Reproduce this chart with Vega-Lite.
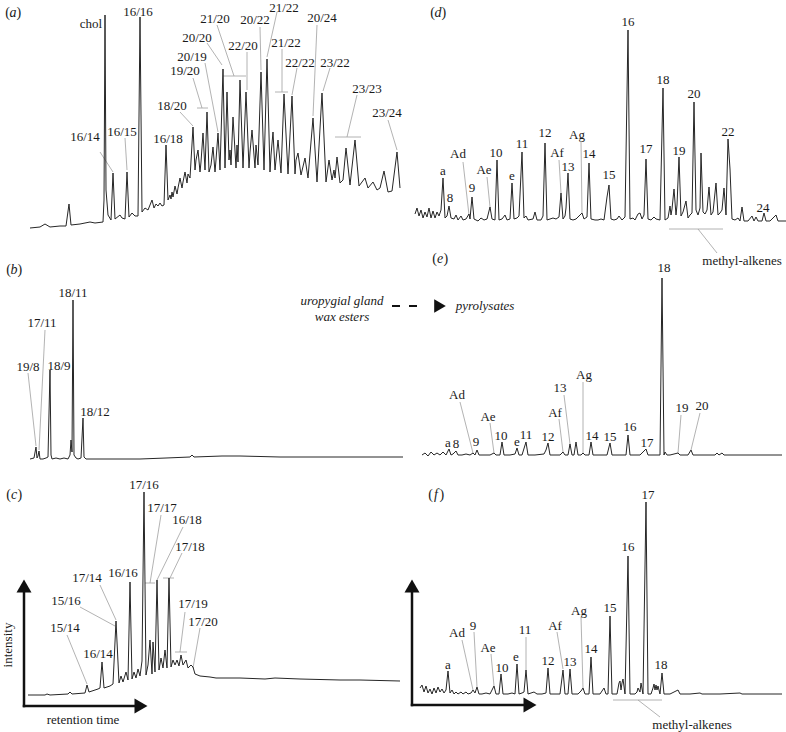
{
"$schema":"https://vega.github.io/schema/vega-lite/v6.json",
"padding":0,
"background":"white",
"config":{"view":{"stroke":null},"mark":{"font":"Liberation Serif"},"text":{"font":"Liberation Serif"}},
"columns":2,
"spacing":0,
"bounds":"flush",
"align":"each",
"datasets":{
"a_line":[{"t":30,"i":12},{"t":40,"i":13},{"t":45,"i":16},{"t":50,"i":13},{"t":60,"i":14},{"t":66,"i":14},{"t":69,"i":36},{"t":71,"i":15},{"t":80,"i":16},{"t":90,"i":18},{"t":95,"i":17},{"t":103,"i":18},{"t":104,"i":40},{"t":105,"i":225},{"t":106,"i":50},{"t":108,"i":25},{"t":111,"i":20},{"t":113,"i":67},{"t":115,"i":21},{"t":120,"i":25},{"t":122,"i":22},{"t":125,"i":21},{"t":127,"i":68},{"t":129,"i":23},{"t":132,"i":27},{"t":135,"i":24},{"t":138,"i":24},{"t":140,"i":223},{"t":142,"i":28},{"t":145,"i":32},{"t":148,"i":30},{"t":152,"i":40},{"t":154,"i":32},{"t":156,"i":36},{"t":158,"i":34},{"t":160,"i":37},{"t":162,"i":34},{"t":164,"i":35},{"t":166,"i":95},{"t":168,"i":40},{"t":170,"i":45},{"t":171,"i":41},{"t":172,"i":48},{"t":173,"i":43},{"t":175,"i":54},{"t":177,"i":46},{"t":178,"i":52},{"t":180,"i":62},{"t":182,"i":52},{"t":183,"i":58},{"t":185,"i":68},{"t":187,"i":57},{"t":188,"i":66},{"t":190,"i":62},{"t":193,"i":113},{"t":195,"i":70},{"t":196,"i":80},{"t":198,"i":90},{"t":200,"i":68},{"t":201,"i":78},{"t":203,"i":107},{"t":205,"i":70},{"t":207,"i":128},{"t":209,"i":68},{"t":211,"i":75},{"t":213,"i":93},{"t":215,"i":68},{"t":216,"i":80},{"t":218,"i":107},{"t":220,"i":70},{"t":223,"i":171},{"t":225,"i":72},{"t":227,"i":148},{"t":229,"i":80},{"t":230,"i":90},{"t":231,"i":75},{"t":233,"i":123},{"t":236,"i":72},{"t":237,"i":95},{"t":238,"i":78},{"t":240,"i":160},{"t":243,"i":72},{"t":246,"i":148},{"t":249,"i":72},{"t":250,"i":88},{"t":252,"i":110},{"t":255,"i":72},{"t":256,"i":95},{"t":258,"i":75},{"t":261,"i":168},{"t":264,"i":70},{"t":267,"i":181},{"t":270,"i":68},{"t":271,"i":85},{"t":273,"i":108},{"t":275,"i":70},{"t":278,"i":100},{"t":281,"i":67},{"t":284,"i":146},{"t":288,"i":66},{"t":292,"i":144},{"t":295,"i":66},{"t":296,"i":80},{"t":298,"i":87},{"t":301,"i":65},{"t":305,"i":82},{"t":308,"i":62},{"t":313,"i":122},{"t":317,"i":58},{"t":322,"i":147},{"t":326,"i":58},{"t":329,"i":80},{"t":332,"i":60},{"t":334,"i":70},{"t":335,"i":62},{"t":337,"i":83},{"t":340,"i":57},{"t":343,"i":60},{"t":346,"i":92},{"t":350,"i":55},{"t":355,"i":100},{"t":359,"i":54},{"t":362,"i":58},{"t":365,"i":62},{"t":368,"i":52},{"t":373,"i":58},{"t":377,"i":50},{"t":380,"i":52},{"t":384,"i":69},{"t":388,"i":48},{"t":392,"i":49},{"t":397,"i":88},{"t":400,"i":52}],
"a_lead":[{"t":100,"i":88,"t2":113,"i2":68},{"t":125,"i":102,"t2":127,"i2":70},{"t":180,"i":128,"t2":193,"i2":114},{"t":193,"i":162,"t2":202,"i2":132},{"t":197,"i":132,"t2":208,"i2":132},{"t":205,"i":177,"t2":218,"i2":108},{"t":207,"i":197,"t2":222,"i2":175},{"t":217,"i":215,"t2":234,"i2":164},{"t":223,"i":164,"t2":246,"i2":164},{"t":247,"i":188,"t2":247,"i2":150},{"t":260,"i":213,"t2":261,"i2":170},{"t":277,"i":228,"t2":267,"i2":183},{"t":282,"i":191,"t2":282,"i2":148},{"t":275,"i":148,"t2":288,"i2":148},{"t":297,"i":172,"t2":292,"i2":145},{"t":317,"i":215,"t2":313,"i2":124},{"t":330,"i":172,"t2":323,"i2":149},{"t":357,"i":145,"t2":347,"i2":103},{"t":335,"i":103,"t2":361,"i2":103},{"t":388,"i":120,"t2":397,"i2":90}],
"a_lab":[{"t":91,"i":216,"s":"chol"},{"t":138,"i":228,"s":"16/16"},{"t":85,"i":103,"s":"16/14"},{"t":122,"i":108,"s":"16/15"},{"t":168,"i":101,"s":"16/18"},{"t":172,"i":134,"s":"18/20"},{"t":185,"i":169,"s":"19/20"},{"t":192,"i":183,"s":"20/19"},{"t":197,"i":202,"s":"20/20"},{"t":215,"i":221,"s":"21/20"},{"t":243,"i":194,"s":"22/20"},{"t":255,"i":220,"s":"20/22"},{"t":284,"i":232,"s":"21/22"},{"t":286,"i":197,"s":"21/22"},{"t":300,"i":177,"s":"22/22"},{"t":322,"i":222,"s":"20/24"},{"t":335,"i":177,"s":"23/22"},{"t":367,"i":151,"s":"23/23"},{"t":387,"i":127,"s":"23/24"}],
"d_line":[{"t":7,"i":26},{"t":9,"i":32},{"t":11,"i":24},{"t":13,"i":30},{"t":15,"i":22},{"t":17,"i":28},{"t":19,"i":23},{"t":21,"i":32},{"t":23,"i":22},{"t":25,"i":29},{"t":27,"i":22},{"t":29,"i":28},{"t":31,"i":24},{"t":33,"i":30},{"t":35,"i":62},{"t":37,"i":22},{"t":39,"i":24},{"t":41,"i":34},{"t":43,"i":22},{"t":46,"i":21},{"t":48,"i":25},{"t":50,"i":20},{"t":53,"i":24},{"t":55,"i":20},{"t":58,"i":21},{"t":61,"i":26},{"t":62,"i":21},{"t":64,"i":43},{"t":66,"i":21},{"t":70,"i":19},{"t":73,"i":22},{"t":76,"i":20},{"t":79,"i":21},{"t":82,"i":33},{"t":84,"i":21},{"t":87,"i":20},{"t":89,"i":80},{"t":91,"i":20},{"t":94,"i":21},{"t":97,"i":25},{"t":99,"i":20},{"t":102,"i":21},{"t":104,"i":57},{"t":106,"i":21},{"t":109,"i":22},{"t":111,"i":24},{"t":114,"i":88},{"t":116,"i":22},{"t":118,"i":24},{"t":120,"i":20},{"t":125,"i":21},{"t":127,"i":28},{"t":129,"i":20},{"t":133,"i":20},{"t":135,"i":24},{"t":137,"i":97},{"t":139,"i":20},{"t":142,"i":21},{"t":145,"i":22},{"t":148,"i":21},{"t":151,"i":23},{"t":153,"i":47},{"t":155,"i":21},{"t":157,"i":24},{"t":158,"i":32},{"t":160,"i":67},{"t":162,"i":21},{"t":165,"i":20},{"t":168,"i":21},{"t":171,"i":24},{"t":174,"i":27},{"t":176,"i":21},{"t":179,"i":23},{"t":181,"i":77},{"t":183,"i":21},{"t":187,"i":20},{"t":190,"i":20},{"t":193,"i":21},{"t":196,"i":20},{"t":199,"i":43},{"t":201,"i":55},{"t":203,"i":21},{"t":206,"i":20},{"t":209,"i":21},{"t":211,"i":24},{"t":214,"i":20},{"t":217,"i":23},{"t":220,"i":210},{"t":222,"i":21},{"t":225,"i":22},{"t":227,"i":20},{"t":230,"i":26},{"t":232,"i":27},{"t":234,"i":21},{"t":236,"i":25},{"t":238,"i":81},{"t":240,"i":21},{"t":243,"i":20},{"t":246,"i":23},{"t":248,"i":21},{"t":252,"i":20},{"t":255,"i":152},{"t":257,"i":20},{"t":260,"i":22},{"t":262,"i":34},{"t":263,"i":25},{"t":264,"i":31},{"t":266,"i":51},{"t":268,"i":25},{"t":269,"i":35},{"t":271,"i":83},{"t":273,"i":24},{"t":275,"i":28},{"t":278,"i":39},{"t":280,"i":22},{"t":282,"i":25},{"t":284,"i":27},{"t":286,"i":138},{"t":288,"i":30},{"t":290,"i":25},{"t":292,"i":32},{"t":293,"i":87},{"t":295,"i":28},{"t":297,"i":26},{"t":299,"i":30},{"t":301,"i":53},{"t":303,"i":25},{"t":305,"i":28},{"t":308,"i":57},{"t":310,"i":25},{"t":312,"i":27},{"t":314,"i":30},{"t":316,"i":52},{"t":318,"i":25},{"t":320,"i":101},{"t":322,"i":71},{"t":324,"i":21},{"t":327,"i":20},{"t":330,"i":22},{"t":332,"i":19},{"t":334,"i":33},{"t":336,"i":19},{"t":340,"i":19},{"t":344,"i":24},{"t":346,"i":19},{"t":348,"i":23},{"t":350,"i":19},{"t":354,"i":19},{"t":356,"i":27},{"t":358,"i":19},{"t":362,"i":19},{"t":368,"i":25},{"t":370,"i":19},{"t":378,"i":19}],
"d_lead":[{"t":55,"i":78,"t2":61,"i2":25},{"t":79,"i":63,"t2":82,"i2":33},{"t":151,"i":80,"t2":153,"i2":47},{"t":173,"i":98,"t2":174,"i2":27},{"t":261,"i":11,"t2":315,"i2":11},{"t":290,"i":11,"t2":309,"i2":-13}],
"d_lab":[{"t":35,"i":69,"s":"a"},{"t":42,"i":42,"s":"8"},{"t":50,"i":86,"s":"Ad"},{"t":64,"i":52,"s":"9"},{"t":76,"i":70,"s":"Ae"},{"t":88,"i":87,"s":"10"},{"t":104,"i":64,"s":"e"},{"t":114,"i":96,"s":"11"},{"t":137,"i":107,"s":"12"},{"t":149,"i":87,"s":"Af"},{"t":160,"i":73,"s":"13"},{"t":169,"i":105,"s":"Ag"},{"t":181,"i":86,"s":"14"},{"t":201,"i":65,"s":"15"},{"t":220,"i":218,"s":"16"},{"t":238,"i":91,"s":"17"},{"t":255,"i":160,"s":"18"},{"t":271,"i":89,"s":"19"},{"t":286,"i":146,"s":"20"},{"t":320,"i":108,"s":"22"},{"t":355,"i":32,"s":"24"},{"t":334,"i":-21,"s":"methyl-alkenes"}],
"b_line":[{"t":30,"i":21},{"t":34,"i":22},{"t":36,"i":33},{"t":37,"i":22},{"t":38,"i":24},{"t":39,"i":29},{"t":40,"i":21},{"t":43,"i":21},{"t":46,"i":22},{"t":48,"i":23},{"t":50,"i":110},{"t":51,"i":25},{"t":52,"i":21},{"t":56,"i":22},{"t":60,"i":21},{"t":64,"i":22},{"t":68,"i":21},{"t":70,"i":25},{"t":71,"i":40},{"t":72,"i":28},{"t":73,"i":180},{"t":74,"i":25},{"t":76,"i":22},{"t":78,"i":21},{"t":81,"i":22},{"t":83,"i":62},{"t":84,"i":23},{"t":86,"i":21},{"t":100,"i":21},{"t":140,"i":21},{"t":166,"i":22},{"t":190,"i":23},{"t":192,"i":25},{"t":194,"i":23},{"t":222,"i":24},{"t":240,"i":24},{"t":280,"i":23},{"t":340,"i":23},{"t":403,"i":23}],
"b_lead":[{"t":28,"i":107,"t2":36,"i2":34},{"t":45,"i":150,"t2":39,"i2":30}],
"b_lab":[{"t":28,"i":113,"s":"19/8"},{"t":42,"i":157,"s":"17/11"},{"t":59,"i":114,"s":"18/9"},{"t":73,"i":187,"s":"18/11"},{"t":95,"i":68,"s":"18/12"}],
"b_note":[{"t":342,"i":179,"s":"uropygial gland"},{"t":342,"i":163,"s":"wax esters"}],
"b_dash":[{"t":392,"i":174,"t2":420,"i2":174}],
"b_head":[{"t":440,"i":174}],
"e_line":[{"t":14,"i":25},{"t":17,"i":27},{"t":20,"i":24},{"t":23,"i":28},{"t":26,"i":25},{"t":29,"i":27},{"t":32,"i":25},{"t":35,"i":28},{"t":38,"i":25},{"t":41,"i":31},{"t":43,"i":25},{"t":45,"i":26},{"t":48,"i":29},{"t":50,"i":25},{"t":54,"i":25},{"t":58,"i":26},{"t":62,"i":25},{"t":65,"i":27},{"t":67,"i":25},{"t":69,"i":30},{"t":71,"i":25},{"t":77,"i":25},{"t":82,"i":25},{"t":86,"i":27},{"t":88,"i":25},{"t":92,"i":25},{"t":94,"i":38},{"t":96,"i":25},{"t":102,"i":25},{"t":107,"i":26},{"t":109,"i":32},{"t":111,"i":25},{"t":114,"i":25},{"t":118,"i":38},{"t":120,"i":25},{"t":127,"i":25},{"t":136,"i":26},{"t":138,"i":30},{"t":140,"i":37},{"t":142,"i":25},{"t":147,"i":25},{"t":152,"i":25},{"t":155,"i":28},{"t":157,"i":25},{"t":160,"i":25},{"t":162,"i":36},{"t":164,"i":25},{"t":166,"i":25},{"t":168,"i":38},{"t":170,"i":25},{"t":173,"i":25},{"t":175,"i":27},{"t":177,"i":25},{"t":181,"i":25},{"t":183,"i":38},{"t":185,"i":25},{"t":192,"i":25},{"t":199,"i":25},{"t":202,"i":37},{"t":204,"i":25},{"t":212,"i":25},{"t":218,"i":25},{"t":220,"i":45},{"t":222,"i":25},{"t":232,"i":25},{"t":238,"i":31},{"t":240,"i":25},{"t":247,"i":25},{"t":252,"i":25},{"t":254,"i":202},{"t":256,"i":25},{"t":257,"i":28},{"t":259,"i":25},{"t":262,"i":25},{"t":266,"i":26},{"t":270,"i":27},{"t":272,"i":25},{"t":280,"i":25},{"t":283,"i":30},{"t":285,"i":25},{"t":292,"i":25},{"t":307,"i":25},{"t":309,"i":27},{"t":311,"i":25},{"t":314,"i":27},{"t":316,"i":25},{"t":332,"i":25},{"t":352,"i":25},{"t":374,"i":25}],
"e_lead":[{"t":52,"i":78,"t2":65,"i2":27},{"t":82,"i":57,"t2":86,"i2":27},{"t":151,"i":61,"t2":155,"i2":28},{"t":156,"i":85,"t2":162,"i2":36},{"t":175,"i":98,"t2":175,"i2":27},{"t":273,"i":65,"t2":270,"i2":27},{"t":292,"i":67,"t2":283,"i2":30}],
"e_lab":[{"t":40,"i":37,"s":"a"},{"t":48,"i":36,"s":"8"},{"t":68,"i":38,"s":"9"},{"t":49,"i":85,"s":"Ad"},{"t":80,"i":63,"s":"Ae"},{"t":93,"i":44,"s":"10"},{"t":109,"i":38,"s":"e"},{"t":118,"i":45,"s":"11"},{"t":140,"i":43,"s":"12"},{"t":147,"i":67,"s":"Af"},{"t":152,"i":92,"s":"13"},{"t":176,"i":105,"s":"Ag"},{"t":184,"i":44,"s":"14"},{"t":202,"i":43,"s":"15"},{"t":222,"i":53,"s":"16"},{"t":239,"i":37,"s":"17"},{"t":256,"i":212,"s":"18"},{"t":274,"i":72,"s":"19"},{"t":294,"i":74,"s":"20"}],
"e_note":[{"t":77,"i":174,"s":"pyrolysates"}],
"c_line":[{"t":28,"i":37},{"t":45,"i":37},{"t":47,"i":38},{"t":50,"i":37},{"t":68,"i":38},{"t":70,"i":40},{"t":72,"i":38},{"t":85,"i":39},{"t":87,"i":47},{"t":89,"i":40},{"t":95,"i":42},{"t":98,"i":43},{"t":100,"i":44},{"t":102,"i":70},{"t":104,"i":44},{"t":107,"i":45},{"t":110,"i":46},{"t":113,"i":48},{"t":116,"i":111},{"t":119,"i":49},{"t":121,"i":56},{"t":123,"i":50},{"t":126,"i":60},{"t":128,"i":52},{"t":130,"i":150},{"t":132,"i":53},{"t":134,"i":60},{"t":136,"i":54},{"t":138,"i":63},{"t":140,"i":56},{"t":142,"i":71},{"t":144,"i":240},{"t":146,"i":57},{"t":148,"i":67},{"t":150,"i":92},{"t":152,"i":58},{"t":153,"i":90},{"t":155,"i":60},{"t":157,"i":152},{"t":159,"i":62},{"t":161,"i":74},{"t":163,"i":64},{"t":165,"i":82},{"t":167,"i":64},{"t":169,"i":154},{"t":171,"i":65},{"t":173,"i":72},{"t":175,"i":67},{"t":177,"i":72},{"t":179,"i":66},{"t":181,"i":77},{"t":183,"i":67},{"t":186,"i":72},{"t":188,"i":64},{"t":191,"i":67},{"t":193,"i":65},{"t":195,"i":58},{"t":200,"i":56},{"t":210,"i":55},{"t":216,"i":54},{"t":240,"i":54},{"t":265,"i":53},{"t":275,"i":54},{"t":300,"i":53},{"t":340,"i":52},{"t":360,"i":52},{"t":400,"i":51}],
"c_lead":[{"t":67,"i":97,"t2":87,"i2":48},{"t":80,"i":125,"t2":115,"i2":106},{"t":100,"i":147,"t2":116,"i2":112},{"t":161,"i":217,"t2":150,"i2":149},{"t":145,"i":149,"t2":155,"i2":149},{"t":183,"i":205,"t2":157,"i2":152},{"t":182,"i":179,"t2":170,"i2":154},{"t":163,"i":154,"t2":174,"i2":154},{"t":185,"i":120,"t2":180,"i2":80},{"t":175,"i":80,"t2":187,"i2":80},{"t":200,"i":104,"t2":193,"i2":64}],
"c_lab":[{"t":65,"i":104,"s":"15/14"},{"t":98,"i":78,"s":"16/14"},{"t":66,"i":131,"s":"15/16"},{"t":87,"i":154,"s":"17/14"},{"t":123,"i":159,"s":"16/16"},{"t":144,"i":247,"s":"17/16"},{"t":162,"i":224,"s":"17/17"},{"t":187,"i":212,"s":"16/18"},{"t":190,"i":185,"s":"17/18"},{"t":193,"i":128,"s":"17/19"},{"t":203,"i":110,"s":"17/20"},{"t":83,"i":12,"s":"retention time"}],
"c_axis":[{"t":24,"i":26,"t2":24,"i2":140},{"t":24,"i":26,"t2":136,"i2":26}],
"c_head":[{"t":24,"i":146,"dir":"up"},{"t":141,"i":26,"dir":"right"}],
"c_vnote":[{"t":8,"i":87,"s":"intensity"}],
"f_line":[{"t":12,"i":44},{"t":14,"i":47},{"t":16,"i":40},{"t":18,"i":46},{"t":20,"i":39},{"t":22,"i":43},{"t":24,"i":38},{"t":26,"i":44},{"t":28,"i":39},{"t":30,"i":45},{"t":32,"i":40},{"t":34,"i":43},{"t":36,"i":39},{"t":38,"i":42},{"t":40,"i":61},{"t":42,"i":39},{"t":44,"i":42},{"t":46,"i":38},{"t":48,"i":40},{"t":50,"i":38},{"t":53,"i":40},{"t":55,"i":38},{"t":58,"i":40},{"t":60,"i":38},{"t":63,"i":39},{"t":65,"i":42},{"t":67,"i":39},{"t":69,"i":45},{"t":71,"i":38},{"t":74,"i":38},{"t":78,"i":39},{"t":82,"i":38},{"t":86,"i":46},{"t":88,"i":38},{"t":91,"i":38},{"t":93,"i":58},{"t":95,"i":38},{"t":100,"i":38},{"t":104,"i":39},{"t":107,"i":38},{"t":109,"i":68},{"t":111,"i":38},{"t":114,"i":39},{"t":116,"i":40},{"t":118,"i":62},{"t":120,"i":38},{"t":123,"i":39},{"t":126,"i":40},{"t":129,"i":38},{"t":134,"i":38},{"t":138,"i":39},{"t":140,"i":64},{"t":142,"i":38},{"t":147,"i":38},{"t":152,"i":38},{"t":155,"i":62},{"t":157,"i":38},{"t":160,"i":38},{"t":162,"i":63},{"t":164,"i":38},{"t":170,"i":38},{"t":173,"i":41},{"t":175,"i":44},{"t":177,"i":38},{"t":181,"i":38},{"t":183,"i":75},{"t":185,"i":38},{"t":192,"i":38},{"t":196,"i":44},{"t":198,"i":38},{"t":200,"i":38},{"t":202,"i":116},{"t":204,"i":38},{"t":209,"i":38},{"t":211,"i":49},{"t":212,"i":51},{"t":213,"i":42},{"t":214,"i":49},{"t":215,"i":53},{"t":217,"i":38},{"t":220,"i":176},{"t":222,"i":38},{"t":227,"i":38},{"t":229,"i":40},{"t":230,"i":44},{"t":232,"i":40},{"t":233,"i":49},{"t":235,"i":38},{"t":238,"i":230},{"t":240,"i":38},{"t":243,"i":38},{"t":245,"i":44},{"t":246,"i":48},{"t":247,"i":42},{"t":248,"i":47},{"t":249,"i":42},{"t":250,"i":46},{"t":252,"i":38},{"t":254,"i":59},{"t":256,"i":38},{"t":262,"i":38},{"t":270,"i":42},{"t":272,"i":38},{"t":282,"i":38},{"t":292,"i":39},{"t":294,"i":38},{"t":312,"i":38},{"t":332,"i":39},{"t":334,"i":38},{"t":352,"i":38},{"t":374,"i":38}],
"f_lead":[{"t":54,"i":92,"t2":65,"i2":42},{"t":66,"i":100,"t2":69,"i2":45},{"t":83,"i":78,"t2":86,"i2":46},{"t":118,"i":95,"t2":118,"i2":62},{"t":149,"i":100,"t2":155,"i2":63},{"t":173,"i":115,"t2":175,"i2":44},{"t":205,"i":32,"t2":254,"i2":32},{"t":230,"i":32,"t2":252,"i2":15}],
"f_lab":[{"t":40,"i":67,"s":"a"},{"t":49,"i":99,"s":"Ad"},{"t":65,"i":106,"s":"9"},{"t":80,"i":84,"s":"Ae"},{"t":94,"i":64,"s":"10"},{"t":108,"i":75,"s":"e"},{"t":117,"i":102,"s":"11"},{"t":140,"i":71,"s":"12"},{"t":147,"i":106,"s":"Af"},{"t":162,"i":70,"s":"13"},{"t":171,"i":121,"s":"Ag"},{"t":183,"i":83,"s":"14"},{"t":202,"i":124,"s":"15"},{"t":220,"i":185,"s":"16"},{"t":240,"i":237,"s":"17"},{"t":253,"i":67,"s":"18"},{"t":284,"i":7,"s":"methyl-alkenes"}],
"f_axis":[{"t":4,"i":27,"t2":4,"i2":140},{"t":4,"i":27,"t2":116,"i2":27}],
"f_head":[{"t":4,"i":146,"dir":"up"},{"t":122,"i":27,"dir":"right"}],
"plab":[{"p":"a","t":13,"i":227,"s":"a"},{"p":"d","t":30,"i":227,"s":"d"},{"p":"b","t":14,"i":210,"s":"b"},{"p":"e","t":32,"i":221,"s":"e"},{"p":"c","t":14,"i":237,"s":"c"},{"p":"f","t":28,"i":237,"s":"f"}]
},
"concat":[
{"width":408,"height":240,
 "encoding":{"x":{"field":"t","type":"quantitative","scale":{"domain":[0,408],"nice":false,"zero":false},"axis":null},"y":{"field":"i","type":"quantitative","scale":{"domain":[0,240],"nice":false,"zero":false},"axis":null}},
 "layer":[
  {"data":{"name":"a_lead"},"mark":{"type":"rule","color":"#a0a0a0","strokeWidth":0.8},"encoding":{"x2":{"field":"t2"},"y2":{"field":"i2"}}},
  {"data":{"name":"a_line"},"mark":{"type":"line","color":"#262626","strokeWidth":1},"encoding":{}},
  {"data":{"name":"a_lab"},"mark":{"type":"text","font":"Liberation Serif","fontSize":13,"color":"#1a1a1a","baseline":"middle"},"encoding":{"text":{"field":"s"}}},
  {"data":{"name":"plab"},"transform":[{"filter":"datum.p=='a'"}],"mark":{"type":"text","font":"Liberation Serif","fontSize":14,"fontStyle":"italic","color":"#1a1a1a","baseline":"middle"},"encoding":{"text":{"field":"s"}}},
  {"data":{"name":"plab"},"transform":[{"filter":"datum.p=='a'"}],"mark":{"type":"text","font":"Liberation Serif","fontSize":14,"color":"#1a1a1a","baseline":"middle","align":"right","dx":-3,"text":"("},"encoding":{}},
  {"data":{"name":"plab"},"transform":[{"filter":"datum.p=='a'"}],"mark":{"type":"text","font":"Liberation Serif","fontSize":14,"color":"#1a1a1a","baseline":"middle","align":"left","dx":3.5,"text":")"},"encoding":{}}
 ]},
{"width":378,"height":240,
 "encoding":{"x":{"field":"t","type":"quantitative","scale":{"domain":[0,378],"nice":false,"zero":false},"axis":null},"y":{"field":"i","type":"quantitative","scale":{"domain":[0,240],"nice":false,"zero":false},"axis":null}},
 "layer":[
  {"data":{"name":"d_lead"},"mark":{"type":"rule","color":"#a0a0a0","strokeWidth":0.8},"encoding":{"x2":{"field":"t2"},"y2":{"field":"i2"}}},
  {"data":{"name":"d_line"},"mark":{"type":"line","color":"#262626","strokeWidth":1},"encoding":{}},
  {"data":{"name":"d_lab"},"mark":{"type":"text","font":"Liberation Serif","fontSize":13,"color":"#1a1a1a","baseline":"middle"},"encoding":{"text":{"field":"s"}}},
  {"data":{"name":"plab"},"transform":[{"filter":"datum.p=='d'"}],"mark":{"type":"text","font":"Liberation Serif","fontSize":14,"fontStyle":"italic","color":"#1a1a1a","baseline":"middle"},"encoding":{"text":{"field":"s"}}},
  {"data":{"name":"plab"},"transform":[{"filter":"datum.p=='d'"}],"mark":{"type":"text","font":"Liberation Serif","fontSize":14,"color":"#1a1a1a","baseline":"middle","align":"right","dx":-3,"text":"("},"encoding":{}},
  {"data":{"name":"plab"},"transform":[{"filter":"datum.p=='d'"}],"mark":{"type":"text","font":"Liberation Serif","fontSize":14,"color":"#1a1a1a","baseline":"middle","align":"left","dx":3.5,"text":")"},"encoding":{}}
 ]},
{"width":408,"height":240,
 "encoding":{"x":{"field":"t","type":"quantitative","scale":{"domain":[0,408],"nice":false,"zero":false},"axis":null},"y":{"field":"i","type":"quantitative","scale":{"domain":[0,240],"nice":false,"zero":false},"axis":null}},
 "layer":[
  {"data":{"name":"b_lead"},"mark":{"type":"rule","color":"#a0a0a0","strokeWidth":0.8},"encoding":{"x2":{"field":"t2"},"y2":{"field":"i2"}}},
  {"data":{"name":"b_line"},"mark":{"type":"line","color":"#262626","strokeWidth":1},"encoding":{}},
  {"data":{"name":"b_lab"},"mark":{"type":"text","font":"Liberation Serif","fontSize":13,"color":"#1a1a1a","baseline":"middle"},"encoding":{"text":{"field":"s"}}},
  {"data":{"name":"b_note"},"mark":{"type":"text","font":"Liberation Serif","fontSize":13,"fontStyle":"italic","color":"#1a1a1a","baseline":"middle"},"encoding":{"text":{"field":"s"}}},
  {"data":{"name":"b_dash"},"mark":{"type":"rule","color":"#111","strokeWidth":2,"strokeDash":[8,9]},"encoding":{"x2":{"field":"t2"},"y2":{"field":"i2"}}},
  {"data":{"name":"b_head"},"mark":{"type":"point","shape":"triangle-right","filled":true,"color":"#111","opacity":1,"size":180},"encoding":{}},
  {"data":{"name":"plab"},"transform":[{"filter":"datum.p=='b'"}],"mark":{"type":"text","font":"Liberation Serif","fontSize":14,"fontStyle":"italic","color":"#1a1a1a","baseline":"middle"},"encoding":{"text":{"field":"s"}}},
  {"data":{"name":"plab"},"transform":[{"filter":"datum.p=='b'"}],"mark":{"type":"text","font":"Liberation Serif","fontSize":14,"color":"#1a1a1a","baseline":"middle","align":"right","dx":-3,"text":"("},"encoding":{}},
  {"data":{"name":"plab"},"transform":[{"filter":"datum.p=='b'"}],"mark":{"type":"text","font":"Liberation Serif","fontSize":14,"color":"#1a1a1a","baseline":"middle","align":"left","dx":3.5,"text":")"},"encoding":{}}
 ]},
{"width":378,"height":240,
 "encoding":{"x":{"field":"t","type":"quantitative","scale":{"domain":[0,378],"nice":false,"zero":false},"axis":null},"y":{"field":"i","type":"quantitative","scale":{"domain":[0,240],"nice":false,"zero":false},"axis":null}},
 "layer":[
  {"data":{"name":"e_lead"},"mark":{"type":"rule","color":"#a0a0a0","strokeWidth":0.8},"encoding":{"x2":{"field":"t2"},"y2":{"field":"i2"}}},
  {"data":{"name":"e_line"},"mark":{"type":"line","color":"#262626","strokeWidth":1},"encoding":{}},
  {"data":{"name":"e_lab"},"mark":{"type":"text","font":"Liberation Serif","fontSize":13,"color":"#1a1a1a","baseline":"middle"},"encoding":{"text":{"field":"s"}}},
  {"data":{"name":"e_note"},"mark":{"type":"text","font":"Liberation Serif","fontSize":13,"fontStyle":"italic","color":"#1a1a1a","baseline":"middle"},"encoding":{"text":{"field":"s"}}},
  {"data":{"name":"plab"},"transform":[{"filter":"datum.p=='e'"}],"mark":{"type":"text","font":"Liberation Serif","fontSize":14,"fontStyle":"italic","color":"#1a1a1a","baseline":"middle"},"encoding":{"text":{"field":"s"}}},
  {"data":{"name":"plab"},"transform":[{"filter":"datum.p=='e'"}],"mark":{"type":"text","font":"Liberation Serif","fontSize":14,"color":"#1a1a1a","baseline":"middle","align":"right","dx":-3,"text":"("},"encoding":{}},
  {"data":{"name":"plab"},"transform":[{"filter":"datum.p=='e'"}],"mark":{"type":"text","font":"Liberation Serif","fontSize":14,"color":"#1a1a1a","baseline":"middle","align":"left","dx":3.5,"text":")"},"encoding":{}}
 ]},
{"width":408,"height":252,
 "encoding":{"x":{"field":"t","type":"quantitative","scale":{"domain":[0,408],"nice":false,"zero":false},"axis":null},"y":{"field":"i","type":"quantitative","scale":{"domain":[0,252],"nice":false,"zero":false},"axis":null}},
 "layer":[
  {"data":{"name":"c_lead"},"mark":{"type":"rule","color":"#a0a0a0","strokeWidth":0.8},"encoding":{"x2":{"field":"t2"},"y2":{"field":"i2"}}},
  {"data":{"name":"c_line"},"mark":{"type":"line","color":"#262626","strokeWidth":1},"encoding":{}},
  {"data":{"name":"c_axis"},"mark":{"type":"rule","color":"#111","strokeWidth":2.5,"strokeCap":"square"},"encoding":{"x2":{"field":"t2"},"y2":{"field":"i2"}}},
  {"data":{"name":"c_head"},"mark":{"type":"point","filled":true,"color":"#111","opacity":1,"size":225},"encoding":{"shape":{"field":"dir","type":"nominal","scale":{"domain":["up","right"],"range":["triangle-up","triangle-right"]},"legend":null}}},
  {"data":{"name":"c_lab"},"mark":{"type":"text","font":"Liberation Serif","fontSize":13,"color":"#1a1a1a","baseline":"middle"},"encoding":{"text":{"field":"s"}}},
  {"data":{"name":"c_vnote"},"mark":{"type":"text","font":"Liberation Serif","fontSize":13,"color":"#1a1a1a","baseline":"middle","angle":270},"encoding":{"text":{"field":"s"}}},
  {"data":{"name":"plab"},"transform":[{"filter":"datum.p=='c'"}],"mark":{"type":"text","font":"Liberation Serif","fontSize":14,"fontStyle":"italic","color":"#1a1a1a","baseline":"middle"},"encoding":{"text":{"field":"s"}}},
  {"data":{"name":"plab"},"transform":[{"filter":"datum.p=='c'"}],"mark":{"type":"text","font":"Liberation Serif","fontSize":14,"color":"#1a1a1a","baseline":"middle","align":"right","dx":-3,"text":"("},"encoding":{}},
  {"data":{"name":"plab"},"transform":[{"filter":"datum.p=='c'"}],"mark":{"type":"text","font":"Liberation Serif","fontSize":14,"color":"#1a1a1a","baseline":"middle","align":"left","dx":3.5,"text":")"},"encoding":{}}
 ]},
{"width":378,"height":252,
 "encoding":{"x":{"field":"t","type":"quantitative","scale":{"domain":[0,378],"nice":false,"zero":false},"axis":null},"y":{"field":"i","type":"quantitative","scale":{"domain":[0,252],"nice":false,"zero":false},"axis":null}},
 "layer":[
  {"data":{"name":"f_lead"},"mark":{"type":"rule","color":"#a0a0a0","strokeWidth":0.8},"encoding":{"x2":{"field":"t2"},"y2":{"field":"i2"}}},
  {"data":{"name":"f_line"},"mark":{"type":"line","color":"#262626","strokeWidth":1},"encoding":{}},
  {"data":{"name":"f_axis"},"mark":{"type":"rule","color":"#111","strokeWidth":2.5,"strokeCap":"square"},"encoding":{"x2":{"field":"t2"},"y2":{"field":"i2"}}},
  {"data":{"name":"f_head"},"mark":{"type":"point","filled":true,"color":"#111","opacity":1,"size":225},"encoding":{"shape":{"field":"dir","type":"nominal","scale":{"domain":["up","right"],"range":["triangle-up","triangle-right"]},"legend":null}}},
  {"data":{"name":"f_lab"},"mark":{"type":"text","font":"Liberation Serif","fontSize":13,"color":"#1a1a1a","baseline":"middle"},"encoding":{"text":{"field":"s"}}},
  {"data":{"name":"plab"},"transform":[{"filter":"datum.p=='f'"}],"mark":{"type":"text","font":"Liberation Serif","fontSize":14,"fontStyle":"italic","color":"#1a1a1a","baseline":"middle"},"encoding":{"text":{"field":"s"}}},
  {"data":{"name":"plab"},"transform":[{"filter":"datum.p=='f'"}],"mark":{"type":"text","font":"Liberation Serif","fontSize":14,"color":"#1a1a1a","baseline":"middle","align":"right","dx":-3,"text":"("},"encoding":{}},
  {"data":{"name":"plab"},"transform":[{"filter":"datum.p=='f'"}],"mark":{"type":"text","font":"Liberation Serif","fontSize":14,"color":"#1a1a1a","baseline":"middle","align":"left","dx":3.5,"text":")"},"encoding":{}}
 ]}
]
}
